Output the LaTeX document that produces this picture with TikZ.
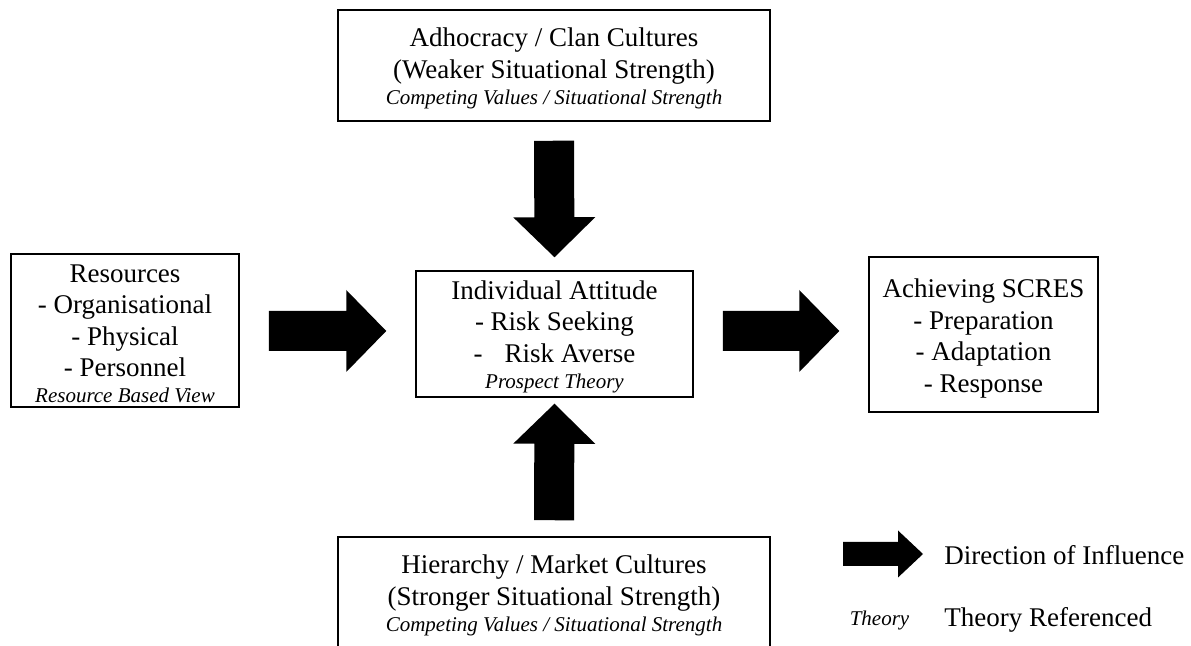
\documentclass[tikz,border=0pt]{standalone}
\usepackage{fontspec}
\setmainfont{Liberation Serif}
\usetikzlibrary{calc}
\newcommand\mainsz{\fontsize{13.5pt}{15.75pt}\selectfont}
\newcommand\thsz{\fontsize{10.5pt}{13pt}\selectfont\itshape}
\newcommand\pushdown[1]{\rule{0pt}{#1}}
% block arrow: #1 start, #2 tip, #3 shaft half width, #4 head half width, #5 head length
\newcommand\blockarrow[5]{%
  \path ($(#2)!#5!(#1)$) coordinate (baH);
  \fill[black] ($(#1)!#3!90:(#2)$) -- ($(baH)!#3!-90:(#1)$) -- ($(baH)!#4!-90:(#1)$)
    -- (#2) -- ($(baH)!#4!90:(#1)$) -- ($(baH)!#3!90:(#1)$) -- ($(#1)!#3!-90:(#2)$) -- cycle;
}
\tikzset{
  box/.style={draw, line width=0.75pt, inner sep=0pt, align=center, font=\mainsz},
  legtext/.style={inner sep=0pt, anchor=west, font=\mainsz},
}
\begin{document}
\begin{tikzpicture}[x=0.5pt,y=-0.5pt]
\useasboundingbox (0,0) rectangle (1191,646);
\fill[white] (0,0) rectangle (1191,646);

\node[box, minimum width=216pt, minimum height=55.5pt] (top) at (554,65.5)
  {\pushdown{12pt}Adhocracy / Clan Cultures\\(Weaker Situational Strength)\\[-2.75pt]{\thsz Competing Values / Situational Strength}};
\node[box, minimum width=138.5pt, minimum height=63pt] (ctr) at (554.5,334)
  {\pushdown{12pt}Individual Attitude\\- Risk Seeking\\-\hspace{11pt}Risk Averse\\[-2.75pt]{\thsz Prospect Theory}};
\node[box, minimum width=114pt, minimum height=76.5pt] (res) at (125,330.5)
  {\pushdown{12pt}Resources\\- Organisational\\- Physical\\- Personnel\\[-2.75pt]{\thsz Resource Based View}};
\node[box, minimum width=114.5pt, minimum height=77.5pt] (scres) at (983.5,334.5)
  {\pushdown{13.5pt}Achieving SCRES\\- Preparation\\- Adaptation\\- Response};
\node[box, minimum width=216pt, minimum height=55.5pt] (bot) at (554,592.5)
  {\pushdown{12pt}Hierarchy / Market Cultures\\(Stronger Situational Strength)\\[-2.75pt]{\thsz Competing Values / Situational Strength}};

% arrows
\coordinate (dA) at ($(top.south)+(0,19)$);
\coordinate (dB) at ($(ctr.north)+(0,-13)$);
\blockarrow{dA}{dB}{10pt}{20.5pt}{20pt}
\coordinate (uA) at ($(bot.north)+(0,-16)$);
\coordinate (uB) at ($(ctr.south)+(0,6)$);
\blockarrow{uA}{uB}{10pt}{20.5pt}{20pt}
\coordinate (lA) at ($(res.east)+(29,0.5)$);
\coordinate (lB) at ($(ctr.west |- lA)+(-29,0)$);
\blockarrow{lA}{lB}{10pt}{20.5pt}{20pt}
\coordinate (rA) at ($(ctr.east |- lA)+(29,0)$);
\coordinate (rB) at ($(scres.west |- lA)+(-29,0)$);
\blockarrow{rA}{rB}{10pt}{20.5pt}{20pt}

% legend
\node[legtext] (leg1) at (944,555) {Direction of Influence};
\node[legtext] (leg2) at (944,620) {Theory Referenced};
\node[inner sep=0pt, font=\thsz] (legth) at (879.5,620) {Theory};
\coordinate (legA) at (843,554);
\coordinate (legB) at ($(leg1.west |- legA)+(-21,0)$);
\blockarrow{legA}{legB}{6pt}{11.75pt}{12.5pt}
\end{tikzpicture}
\end{document}
